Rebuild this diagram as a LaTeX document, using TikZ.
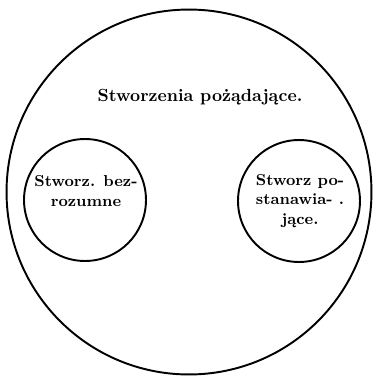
\documentclass[tikz,border=0pt]{standalone}
\usepackage{tikz}
\usetikzlibrary{positioning}

\begin{document}
\begin{tikzpicture}[x=0.02cm,y=-0.02cm,
  ring/.style={draw,circle,line width=1.1pt},
  lbl/.style={font=\bfseries\small,align=center,inner sep=0pt}
]
\useasboundingbox (0,0) rectangle (378,379);
\node[ring,minimum size=7.3cm] (outer) at (189,192) {};
\node[ring,minimum size=2.44cm] (brute) at (85,200) {};
\node[ring,minimum size=2.44cm] (wise) at (299,201) {};

\node[lbl,font=\bfseries] (title) at (200,97) {Stworzenia pożądające.};
\node[lbl] (brutetxt) at (86,191) {Stworz. bez-\\rozumne};
\node[lbl] (wisetxt) at (300,201) {Stworz po-\\stanawia- .\\jące.};
\end{tikzpicture}
\end{document}
